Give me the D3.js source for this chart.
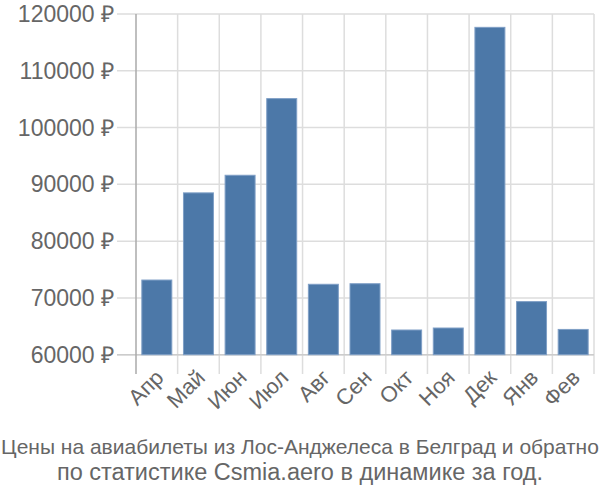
<!DOCTYPE html>
<html><head><meta charset="utf-8">
<script src="https://cdn.jsdelivr.net/npm/d3@7"></script>
<style>body{margin:0;background:#fff}</style>
</head><body>
<svg id="c" width="600" height="500"></svg>
<script>
const months = ["Апр","Май","Июн","Июл","Авг","Сен","Окт","Ноя","Дек","Янв","Фев"];
const prices = [73150, 88500, 91600, 105100, 72400, 72500, 64350, 64700, 117650, 69350, 64450];
const yTicks = [60000, 70000, 80000, 90000, 100000, 110000, 120000];
const titleLines = ["Цены на авиабилеты из Лос-Анджелеса в Белград и обратно","по статистике Csmia.aero в динамике за год."];

const svg = d3.select("#c");
const L = 136, R = 594, T = 14, B = 354.7;
const x = d3.scaleBand().domain(months).range([L, R]).paddingInner(0.28).paddingOuter(0.14);
const y = d3.scaleLinear().domain([60000, 120000]).range([B, T]);
const font = "'Liberation Sans', Arial, sans-serif";

// horizontal grid
svg.append("g").selectAll("line").data(yTicks).join("line")
  .attr("x1", 117).attr("x2", R).attr("y1", d => y(d)).attr("y2", d => y(d))
  .attr("stroke", "#ddd").attr("stroke-width", 1.5);
// vertical grid (category boundaries)
const bnd = d3.range(months.length + 1).map(i => L + i * (R - L) / months.length);
svg.append("g").selectAll("line").data(bnd.slice(1)).join("line")
  .attr("x1", d => d).attr("x2", d => d).attr("y1", T).attr("y2", 374)
  .attr("stroke", "#ddd").attr("stroke-width", 1.5);
// axes lines
svg.append("line").attr("x1", 117).attr("x2", R).attr("y1", B).attr("y2", B).attr("stroke", "#ccc").attr("stroke-width", 1.5);
svg.append("line").attr("x1", L).attr("x2", L).attr("y1", T).attr("y2", 374).attr("stroke", "#aaa").attr("stroke-width", 1.5);

// bars
svg.append("g").selectAll("rect").data(months).join("rect")
  .attr("x", d => x(d)).attr("width", x.bandwidth())
  .attr("y", (d, i) => y(prices[i])).attr("height", (d, i) => B - y(prices[i]))
  .attr("fill", "#4c78a8").attr("stroke", "#7f9fc6").attr("stroke-width", 1);

// y labels
svg.append("g").selectAll("text").data(yTicks).join("text")
  .attr("x", 114).attr("y", d => y(d)).attr("dy", "0.35em")
  .attr("text-anchor", "end").attr("font-family", font).attr("font-size", 23)
  .attr("fill", "#666").text(d => d + " ₽");

// x labels
svg.append("g").selectAll("text").data(months).join("text")
  .attr("transform", d => `translate(${x(d) + x.bandwidth()/2 + 8},${379}) rotate(-45)`)
  .attr("text-anchor", "end").attr("font-family", font).attr("font-size", 22)
  .attr("fill", "#666").text(d => d);

// title
svg.append("g").selectAll("text").data(titleLines).join("text")
  .attr("x", 300).attr("y", (d, i) => i === 0 ? 454 : 480)
  .attr("text-anchor", "middle").attr("font-family", font)
  .attr("font-size", (d, i) => i === 0 ? 21 : 23.5)
  .attr("fill", "#666").text(d => d);
</script>
</body></html>
